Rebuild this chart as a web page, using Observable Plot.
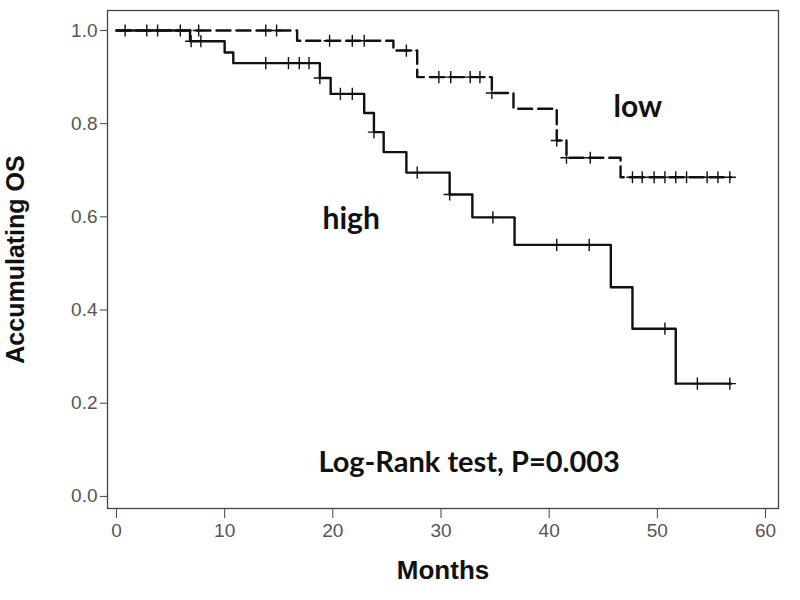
<!DOCTYPE html>
<html>
<head>
<meta charset="utf-8">
<script src="https://cdn.jsdelivr.net/npm/d3@7"></script>
<script src="https://cdn.jsdelivr.net/npm/@observablehq/plot@0.6"></script>
<style>
  body { margin: 0; background: #fff; }
  #chart svg { display: block; }
  #chart svg g[aria-label$="tick label"] text { font-stretch: condensed; }
  #chart svg .cond text { font-stretch: condensed; }
</style>
</head>
<body>
<div id="chart"></div>
<script>
// Kaplan–Meier step points (month, survival)
const highTime = [0, 6.8, 10, 10.8, 18.8, 19.8, 22.9, 23.8, 24.7, 26.8, 30.8, 32.9, 36.8, 45.7, 47.7, 51.7, 56.8];
const highSurv = [1, 0.977, 0.953, 0.930, 0.898, 0.864, 0.823, 0.782, 0.739, 0.695, 0.648, 0.599, 0.540, 0.449, 0.360, 0.242, 0.242];
const lowTime = [0, 16.7, 25.6, 27.8, 34.7, 36.7, 40.7, 41.6, 46.6, 56.8];
const lowSurv = [1, 0.978, 0.957, 0.900, 0.866, 0.832, 0.764, 0.727, 0.685, 0.685];

// Censored observations
const highCensorTime = [6.9, 7.8, 13.8, 15.9, 16.9, 17.8, 18.8, 20.7, 21.8, 23.8, 27.8, 30.8, 34.8, 40.7, 43.7, 50.7, 53.7, 56.7];
const highCensorSurv = [0.977, 0.977, 0.930, 0.930, 0.930, 0.930, 0.898, 0.864, 0.864, 0.782, 0.695, 0.648, 0.599, 0.540, 0.540, 0.360, 0.242, 0.242];
const lowCensorTime = [0.8, 2.8, 3.8, 5.9, 7.6, 13.8, 14.8, 19.7, 21.8, 22.9, 26.8, 29.8, 30.9, 32.7, 33.6, 34.7, 40.7, 41.6, 43.8, 47.7, 48.6, 49.7, 50.7, 51.7, 52.7, 54.6, 55.6, 56.7];
const lowCensorSurv = [1, 1, 1, 1, 1, 1, 1, 0.978, 0.978, 0.978, 0.957, 0.900, 0.900, 0.900, 0.900, 0.866, 0.764, 0.727, 0.727, 0.685, 0.685, 0.685, 0.685, 0.685, 0.685, 0.685, 0.685, 0.685];

const xTicks = [0, 10, 20, 30, 40, 50, 60];
const yTicks = [0, 0.2, 0.4, 0.6, 0.8, 1.0];

// Annotations: [text, month, survival]
const groupLabels = [["high", 21.7, 0.595], ["low", 48.2, 0.835]];
const testLabel = [["Log-Rank test, P=0.003", 32.6, 0.072]];
const xLabel = "Months";
const yLabel = "Accumulating OS";

const high = highTime.map((t, i) => ({t, s: highSurv[i]}));
const low = lowTime.map((t, i) => ({t, s: lowSurv[i]}));
const highC = highCensorTime.map((t, i) => ({t, s: highCensorSurv[i]}));
const lowC = lowCensorTime.map((t, i) => ({t, s: lowCensorSurv[i]}));

const tickFont = "'Liberation Sans Narrow', 'Liberation Sans', Arial, sans-serif";
const labelFont = "Lato, 'Open Sans', sans-serif";

const chart = Plot.plot({
  width: 800,
  height: 600,
  marginLeft: 107,
  marginRight: 22,
  marginTop: 10,
  marginBottom: 92,
  style: {background: "#fff", color: "#555", fontFamily: tickFont},
  x: {domain: [-0.83, 61.2]},
  y: {domain: [-0.026, 1.043]},
  marks: [
    Plot.frame({stroke: "#444", strokeWidth: 1.3}),
    Plot.axisX({ticks: xTicks, tickSize: 10, tickPadding: 5, fontSize: 19, label: null, stroke: "#444", fill: "#555"}),
    Plot.axisY({ticks: yTicks, tickSize: 7, tickPadding: 3, fontSize: 19, tickFormat: d3.format(".1f"), label: null, stroke: "#444", fill: "#555"}),
    Plot.line(low, {x: "t", y: "s", curve: "step-after", stroke: "#111", strokeWidth: 2.4, strokeDasharray: "14,6"}),
    Plot.line(high, {x: "t", y: "s", curve: "step-after", stroke: "#111", strokeWidth: 2.4}),
    Plot.dot(lowC, {x: "t", y: "s", symbol: "plus", r: 4, stroke: "#111", strokeWidth: 1.4}),
    Plot.dot(highC, {x: "t", y: "s", symbol: "plus", r: 4, stroke: "#111", strokeWidth: 1.4}),
    Plot.text(groupLabels, {x: d => d[1], y: d => d[2], text: d => d[0], fontSize: 30, fontWeight: "bold", fill: "#111", fontFamily: labelFont}),
    Plot.text(testLabel, {x: d => d[1], y: d => d[2], text: d => d[0], fontSize: 29, fontWeight: "bold", fill: "#111", fontFamily: labelFont}),
    Plot.text([xLabel], {frameAnchor: "bottom", dy: 70, text: d => d, fontSize: 26, fontWeight: "bold", fill: "#111", fontFamily: tickFont, className: "cond"}),
    Plot.text([yLabel], {frameAnchor: "left", textAnchor: "middle", dx: -92, rotate: -90, text: d => d, fontSize: 25, fontWeight: "bold", fill: "#111", fontFamily: "'Liberation Sans', Arial, sans-serif"})
  ]
});
document.getElementById("chart").append(chart);
</script>
</body>
</html>
